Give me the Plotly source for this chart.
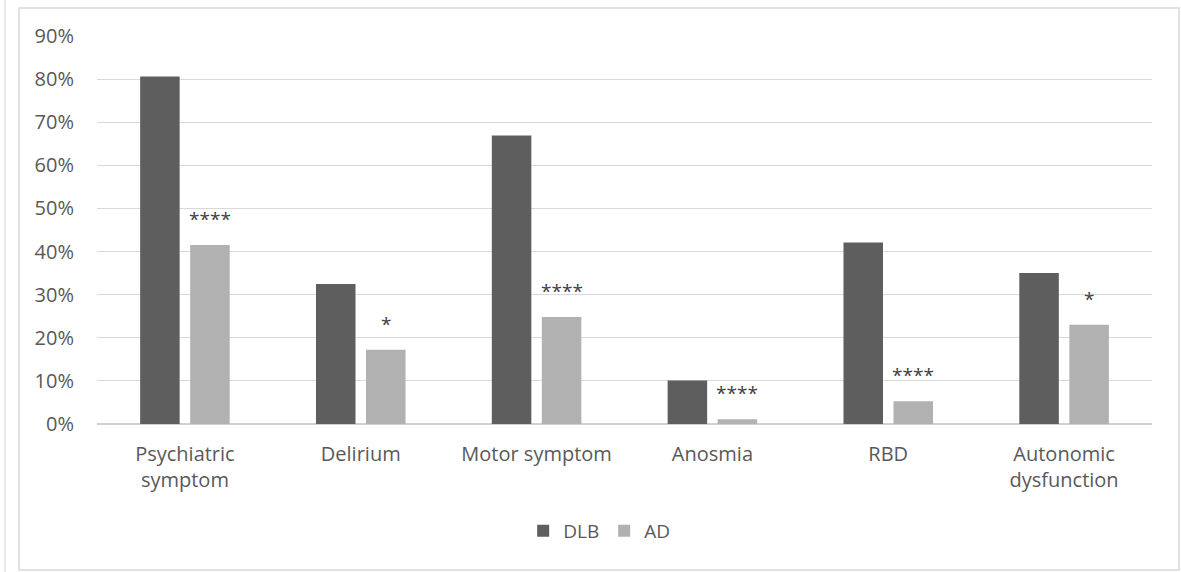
import plotly.graph_objects as go

categories = ["Psychiatric<br>symptom", "Delirium", "Motor symptom", "Anosmia", "RBD", "Autonomic<br>dysfunction"]
dlb = [0.806, 0.325, 0.669, 0.101, 0.421, 0.350]
ad = [0.415, 0.172, 0.248, 0.011, 0.053, 0.230]
significance = ["****", "*", "****", "****", "****", "*"]
y_ticks = [0, 0.1, 0.2, 0.3, 0.4, 0.5, 0.6, 0.7, 0.8, 0.9]

FONT = "Open Sans"
TXT = "#595959"
W, H = 1181, 572
ML, MR, MT, MB = 97, 29, 36, 148

fig = go.Figure()
fig.add_trace(go.Bar(name="DLB", x=categories, y=dlb, marker=dict(color="#5e5e5e", line=dict(width=0))))
fig.add_trace(go.Bar(name="AD", x=categories, y=ad, marker=dict(color="#b1b1b1", line=dict(width=0))))

for c, v, s in zip(categories, ad, significance):
    fig.add_annotation(x=c, y=v, xref="x", yref="y", text=s, showarrow=False,
                       xshift=25, yshift=11, yanchor="bottom",
                       font=dict(family=FONT, size=19, color="#404040"))

pw = W - ML - MR
ph = H - MT - MB
def px_x(p):
    return (p - ML) / pw
def px_y(p):
    return 1 - (p - MT) / ph

# outer chart frame
fig.add_shape(type="rect", xref="paper", yref="paper",
              x0=px_x(19), x1=px_x(1179), y0=px_y(570), y1=px_y(8),
              line=dict(color="#d9d9d9", width=1.5), fillcolor="rgba(0,0,0,0)", layer="below")
fig.add_shape(type="line", xref="paper", yref="paper",
              x0=px_x(5), x1=px_x(5), y0=px_y(572), y1=px_y(0),
              line=dict(color="#e0e0e0", width=1.5))

fig.update_layout(
    width=W, height=H,
    margin=dict(l=ML, r=MR, t=MT, b=MB, pad=0),
    paper_bgcolor="white", plot_bgcolor="white",
    barmode="group", bargap=0.431, bargroupgap=0.21,
    font=dict(family=FONT, size=20, color=TXT),
    showlegend=True,
    hovermode=False,
    legend=dict(orientation="h", x=0.476, xanchor="center", y=px_y(531), yanchor="middle",
                font=dict(family=FONT, size=19, color=TXT), traceorder="normal",
                itemwidth=30, tracegroupgap=0),
)
fig.update_yaxes(range=[0, 0.9], tickvals=y_ticks, tickformat=".0%",
                 showgrid=True, gridcolor="#d9d9d9", gridwidth=1.3,
                 zeroline=True, zerolinecolor="#d0d0d0", zerolinewidth=1.5,
                 showline=False, ticks="", ticklabelstandoff=22,
                 tickfont=dict(family=FONT, size=20, color=TXT), fixedrange=True)
fig.update_xaxes(showgrid=False, showline=False, ticks="", ticklabelstandoff=16,
                 tickfont=dict(family=FONT, size=20, color=TXT), fixedrange=True)

fig.write_html(
    "out.html",
    config={"displayModeBar": False},
    post_script="document.body.style.margin='0';document.documentElement.style.overflow='hidden';",
)
